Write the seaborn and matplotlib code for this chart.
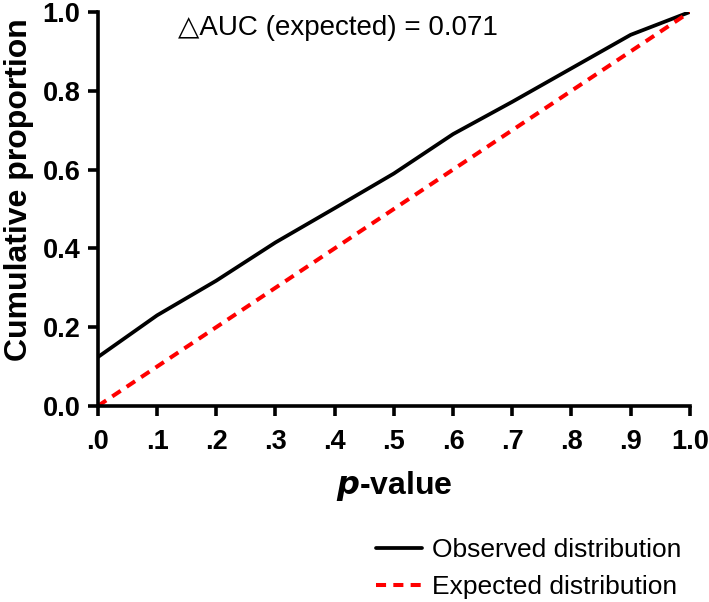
import numpy as np
import pandas as pd
import matplotlib.pyplot as plt
import seaborn as sns

# data
p_values = [0.0, 0.1, 0.2, 0.3, 0.4, 0.5, 0.6, 0.7, 0.8, 0.9, 1.0]
observed = [0.124, 0.23, 0.318, 0.415, 0.502, 0.59, 0.69, 0.772, 0.857, 0.942, 1.0]
expected = [0.0, 0.1, 0.2, 0.3, 0.4, 0.5, 0.6, 0.7, 0.8, 0.9, 1.0]
x_tick_labels = [".0", ".1", ".2", ".3", ".4", ".5", ".6", ".7", ".8", ".9", "1.0"]
y_ticks = [0.0, 0.2, 0.4, 0.6, 0.8, 1.0]
delta_auc = 0.071

sns.set_style("ticks")
plt.rcParams['font.family'] = ['Liberation Sans', 'DejaVu Sans']
plt.rcParams.update({"text.color": "black", "axes.labelcolor": "black",
                     "xtick.color": "black", "ytick.color": "black",
                     "axes.edgecolor": "black"})

fig = plt.figure(figsize=(7.09, 6.02), dpi=100)
ax = fig.add_axes([0.138, 0.3256, 0.835, 0.6545])

sns.lineplot(x=p_values, y=observed, ax=ax, color="black", linewidth=2.7,
             label="Observed distribution")
sns.lineplot(x=p_values, y=expected, ax=ax, color="#ff0000", linewidth=2.9,
             linestyle=(0, (2.5, 1.8)), label="Expected distribution")

ax.set_xlim(0, 1.0)
ax.set_ylim(0, 1.0)
ax.set_xticks(p_values)
ax.set_xticklabels(x_tick_labels)
ax.set_yticks(y_ticks)
ax.set_yticklabels([f"{v:.1f}" for v in y_ticks])
ax.tick_params(axis="both", length=7.5, width=2.6, labelsize=19.5)
ax.tick_params(axis="x", pad=9)
ax.tick_params(axis="y", pad=5)
for lab in ax.get_xticklabels() + ax.get_yticklabels():
    lab.set_fontweight("bold")
for s in ["left", "bottom"]:
    ax.spines[s].set_linewidth(2.6)
sns.despine(ax=ax)

ax.set_xlabel(r"$\bfit{p}$-value", fontsize=23, fontweight="bold", labelpad=10)
ax.set_ylabel("Cumulative proportion", fontsize=23, fontweight="bold")
ax.yaxis.set_label_coords(-0.108, 0.55)

ax.text(0.135, 0.96, "\u25b3AUC (expected) = " + f"{delta_auc:.3f}",
        fontsize=20, va="center", ha="left")

handles, labels = ax.get_legend_handles_labels()
ax.get_legend().remove()
fig.legend(handles, labels, loc="lower left", bbox_to_anchor=(0.497, -0.035),
           frameon=False, fontsize=19, handlelength=1.75, handletextpad=0.35,
           labelspacing=0.5)

fig.savefig("out.png", dpi=100)
